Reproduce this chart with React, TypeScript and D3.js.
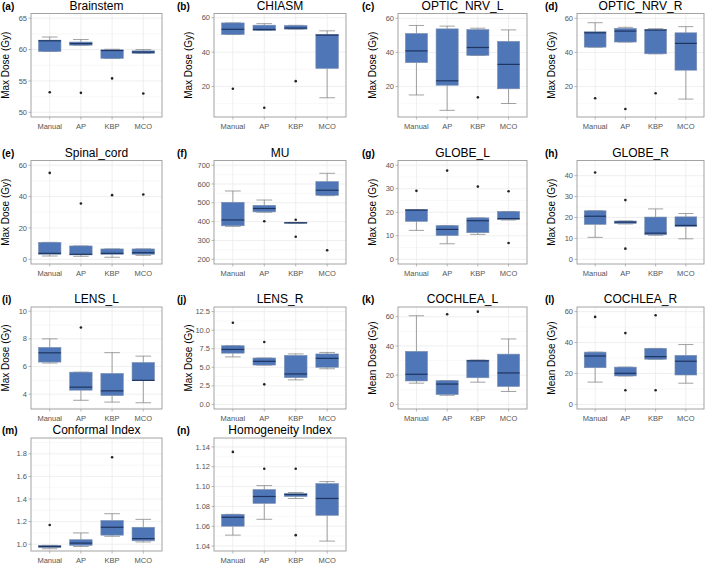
import React from "react";
import * as d3 from "d3";

const categories = ["Manual", "AP", "KBP", "MCO"];

const panelLetters = ["(a)", "(b)", "(c)", "(d)", "(e)", "(f)", "(g)", "(h)", "(i)", "(j)", "(k)", "(l)", "(m)", "(n)"];
const panelTitles = ["Brainstem", "CHIASM", "OPTIC_NRV_L", "OPTIC_NRV_R", "Spinal_cord", "MU", "GLOBE_L", "GLOBE_R", "LENS_L", "LENS_R", "COCHLEA_L", "COCHLEA_R", "Conformal Index", "Homogeneity Index"];
const yTitles = ["Max Dose (Gy)", "Max Dose (Gy)", "Max Dose (Gy)", "Max Dose (Gy)", "Max Dose (Gy)", "", "Max Dose (Gy)", "Max Dose (Gy)", "Max Dose (Gy)", "Max Dose (Gy)", "Mean Dose (Gy)", "Mean Dose (Gy)", "", ""];

const tickLabels = [
  ["50", "55", "60", "65"],
  ["20", "40", "60"],
  ["20", "40", "60"],
  ["20", "40", "60"],
  ["0", "20", "40", "60"],
  ["200", "300", "400", "500", "600", "700"],
  ["0", "10", "20", "30", "40"],
  ["0", "10", "20", "30", "40"],
  ["4", "6", "8", "10"],
  ["0.0", "2.5", "5.0", "7.5", "10.0", "12.5"],
  ["0", "20", "40", "60"],
  ["0", "20", "40", "60"],
  ["1.0", "1.2", "1.4", "1.6", "1.8"],
  ["1.04", "1.06", "1.08", "1.10", "1.12", "1.14"],
];

const yDomains = [
  [49.25, 65.75], [2.2, 62.5], [2.2, 62.8], [2.2, 62.8],
  [-3, 63], [175, 725], [-2, 42], [-2.25, 47.25],
  [2.93, 10.3], [-0.625, 13.125], [-3.2, 66.7], [-3, 63],
  [0.94, 1.94], [1.035, 1.149],
];

// [lower whisker, q1, median, q3, upper whisker] per category
const brainstemStats = [[59.7, 59.7, 61.4, 61.5, 62.0], [60.7, 60.7, 60.95, 61.2, 61.6], [58.6, 58.6, 59.85, 59.95, 60.05], [59.4, 59.4, 59.6, 59.8, 60.0]];
const brainstemOut = [[53.2], [53.1], [55.4], [53.0]];
const chiasmStats = [[50.3, 50.3, 53.3, 57.0, 57.0], [52.6, 52.6, 53.2, 55.7, 56.6], [53.4, 53.4, 54.0, 55.5, 55.6], [13.4, 30.5, 49.9, 50.3, 52.4]];
const chiasmOut = [[18.7], [7.6], [23.1], []];
const opticLStats = [[15.1, 34.0, 40.9, 51.1, 55.8], [6.1, 20.8, 23.4, 53.8, 55.4], [38.3, 38.3, 42.9, 53.4, 54.2], [10.1, 18.7, 33.0, 46.5, 53.2]];
const opticLOut = [[], [], [13.7], []];
const opticRStats = [[43.1, 43.1, 51.5, 52.1, 57.4], [46.1, 46.1, 52.5, 54.1, 54.7], [39.2, 39.2, 53.1, 53.5, 53.9], [12.7, 29.6, 45.3, 51.5, 55.1]];
const opticROut = [[13.2], [6.9], [16.1], []];
const spinalStats = [[2.1, 3.2, 3.8, 10.8, 10.8], [1.9, 2.8, 3.2, 8.5, 8.5], [1.3, 3.2, 3.8, 6.6, 6.6], [2.5, 3.2, 4.2, 6.6, 6.6]];
const spinalOut = [[55.1], [35.6], [40.9], [41.3]];
const muStats = [[375, 378, 409, 503, 563], [450, 452, 470, 487, 515], [392, 392, 394, 396, 396], [538, 540, 567, 613, 657]];
const muOut = [[], [402], [410, 320], [248]];
const globeLStats = [[12.3, 16.1, 20.9, 21.1, 21.1], [6.6, 10.1, 12.7, 14.3, 14.3], [10.6, 11.3, 16.4, 17.6, 17.6], [16.7, 16.9, 17.3, 20.3, 20.3]];
const globeLOut = [[29.1], [37.7], [30.9], [28.9, 6.9]];
const globeRStats = [[10.5, 16.7, 20.6, 23.2, 23.2], [16.9, 17.1, 17.8, 18.3, 18.3], [11.5, 11.7, 12.5, 20.2, 24.1], [9.8, 15.6, 16.2, 20.3, 21.9]];
const globeROut = [[41.5], [28.3, 5.1], [], []];
const lensLStats = [[6.25, 6.32, 6.99, 7.38, 8.0], [3.56, 4.29, 4.51, 5.59, 5.59], [3.43, 3.9, 4.24, 5.5, 7.0], [3.38, 4.99, 5.0, 6.29, 6.75]];
const lensLOut = [[], [8.82], [], []];
const lensRStats = [[6.4, 6.9, 7.4, 7.9, 7.9], [5.3, 5.3, 5.8, 6.25, 6.25], [3.3, 3.6, 4.1, 6.6, 6.8], [4.8, 5.0, 6.2, 6.8, 7.0]];
const lensROut = [[11.0], [8.4, 2.7], [], []];
const cochLStats = [[14.5, 16.0, 20.6, 36.3, 60.7], [6.2, 6.7, 13.9, 16.2, 16.2], [15.2, 18.2, 29.8, 30.3, 30.3], [8.8, 12.2, 21.5, 34.4, 44.8]];
const cochLOut = [[], [61.7], [63.5], []];
const cochRStats = [[14.4, 23.7, 31.3, 33.8, 33.8], [18.4, 18.4, 20.1, 24.1, 24.1], [29.2, 29.2, 30.9, 36.2, 36.2], [13.7, 19.0, 27.9, 31.7, 38.7]];
const cochROut = [[56.6], [46.1, 9.1], [57.7, 9.1], []];
const ciStats = [[0.96, 0.97, 0.98, 0.99, 0.99], [0.98, 0.99, 1.01, 1.04, 1.10], [1.07, 1.08, 1.15, 1.21, 1.27], [1.02, 1.03, 1.05, 1.15, 1.22]];
const ciOut = [[1.17], [], [1.77], []];
const hiStats = [[1.051, 1.060, 1.069, 1.072, 1.072], [1.067, 1.083, 1.090, 1.097, 1.101], [1.088, 1.090, 1.092, 1.093, 1.094], [1.045, 1.071, 1.088, 1.103, 1.105]];
const hiOut = [[1.135], [1.118], [1.118, 1.051], []];

const allStats = [brainstemStats, chiasmStats, opticLStats, opticRStats, spinalStats, muStats, globeLStats, globeRStats, lensLStats, lensRStats, cochLStats, cochRStats, ciStats, hiStats];
const allOut = [brainstemOut, chiasmOut, opticLOut, opticROut, spinalOut, muOut, globeLOut, globeROut, lensLOut, lensROut, cochLOut, cochROut, ciOut, hiOut];

// layout
const colLeft = [31, 214, 398, 577];
const colRight = [162, 346, 527, 704];
const rowTop = [13.5, 160.5, 307, 438];
const rowBottom = [117, 264, 409, 551];
const letterX = [2, 177, 362, 545];

const FONT = "'Liberation Sans', Arial, Helvetica, sans-serif";
const BOX_FILL = "#4F76B6";
const BOX_STROKE = "#7D8FAE";
const MEDIAN = "#1E3561";
const WHISK = "#8A8A8A";
const GRID = "#EBEBEB";
const BORDER = "#9A9A9A";
const TICKTXT = "#555555";

function Panel({ i }: { i: number }) {
  const col = i % 4;
  const row = Math.floor(i / 4);
  const L = colLeft[col], R = colRight[col], T = rowTop[row], B = rowBottom[row];
  const y = d3.scaleLinear().domain(yDomains[i]).range([B, T]);
  // ggplot-like discrete expansion: 0.6 category units on each side
  const unit = (R - L) / (categories.length + 0.2);
  const x = d3.scaleLinear().domain([0.4, categories.length + 0.6]).range([L, R]);
  const cx = (k: number) => x(k + 1);
  const bw = unit * 0.72;
  const cw = unit * 0.5;
  const ticks = tickLabels[i].map(Number);
  const step = ticks[1] - ticks[0];
  const minor: number[] = [];
  for (let t = ticks[0] - step / 2; t <= ticks[ticks.length - 1] + step / 2 + 1e-9; t += step) {
    const [lo, hi] = yDomains[i];
    if (t > lo && t < hi) minor.push(t);
  }
  const stats = allStats[i];
  const outs = allOut[i];
  return (
    <g>
      <text x={letterX[col]} y={T - 4} fontFamily={FONT} fontWeight="bold" fontSize={10} fill="#000">{panelLetters[i]}</text>
      <text x={(L + R) / 2} y={T - 4} textAnchor="middle" fontFamily={FONT} fontSize={12} fill="#000">{panelTitles[i]}</text>
      {yTitles[i] && (
        <text transform={`translate(${L - 22},${(T + B) / 2}) rotate(-90)`} textAnchor="middle" fontFamily={FONT} fontSize={10} fill="#000">{yTitles[i]}</text>
      )}
      <rect x={L} y={T} width={R - L} height={B - T} fill="#fff" />
      {minor.map((t, k) => (
        <line key={"mn" + k} x1={L} x2={R} y1={y(t)} y2={y(t)} stroke="#F3F3F3" strokeWidth={0.6} />
      ))}
      {ticks.map((t, k) => (
        <line key={"mj" + k} x1={L} x2={R} y1={y(t)} y2={y(t)} stroke={GRID} strokeWidth={0.8} />
      ))}
      {categories.map((c, k) => (
        <line key={"vx" + k} x1={cx(k)} x2={cx(k)} y1={T} y2={B} stroke={GRID} strokeWidth={0.8} />
      ))}
      {stats.map((s, k) => {
        const [lo, q1, med, q3, hi] = s;
        const xc = cx(k);
        return (
          <g key={"bx" + k}>
            <line x1={xc} x2={xc} y1={y(hi)} y2={y(q3)} stroke={WHISK} strokeWidth={0.8} />
            <line x1={xc} x2={xc} y1={y(lo)} y2={y(q1)} stroke={WHISK} strokeWidth={0.8} />
            <line x1={xc - cw / 2} x2={xc + cw / 2} y1={y(hi)} y2={y(hi)} stroke={WHISK} strokeWidth={0.8} />
            <line x1={xc - cw / 2} x2={xc + cw / 2} y1={y(lo)} y2={y(lo)} stroke={WHISK} strokeWidth={0.8} />
            <rect x={xc - bw / 2} y={y(q3)} width={bw} height={Math.max(0.8, y(q1) - y(q3))} fill={BOX_FILL} stroke={BOX_STROKE} strokeWidth={0.6} />
            <line x1={xc - bw / 2} x2={xc + bw / 2} y1={y(med)} y2={y(med)} stroke={MEDIAN} strokeWidth={1.2} />
            {outs[k].map((o, m) => (
              <circle key={"o" + m} cx={xc} cy={y(o)} r={1.3} fill="#222" />
            ))}
          </g>
        );
      })}
      <rect x={L} y={T} width={R - L} height={B - T} fill="none" stroke={BORDER} strokeWidth={0.9} />
      {ticks.map((t, k) => (
        <g key={"yt" + k}>
          <line x1={L - 2.5} x2={L} y1={y(t)} y2={y(t)} stroke={BORDER} strokeWidth={0.7} />
          <text x={L - 4} y={y(t)} dy="0.35em" textAnchor="end" fontFamily={FONT} fontSize={7.5} fill={TICKTXT}>{tickLabels[i][k]}</text>
        </g>
      ))}
      {categories.map((c, k) => (
        <g key={"xt" + k}>
          <line x1={cx(k)} x2={cx(k)} y1={B} y2={B + 2.5} stroke={BORDER} strokeWidth={0.7} />
          <text x={cx(k)} y={B + 12} textAnchor="middle" fontFamily={FONT} fontSize={7.5} fill={TICKTXT}>{c}</text>
        </g>
      ))}
    </g>
  );
}

export default function App() {
  return (
    <svg width={709} height={571} style={{ position: "absolute", left: 0, top: 0, background: "#fff" }}>
      <rect x={0} y={0} width={709} height={571} fill="#fff" />
      {panelTitles.map((_, i) => (
        <Panel key={i} i={i} />
      ))}
    </svg>
  );
}
